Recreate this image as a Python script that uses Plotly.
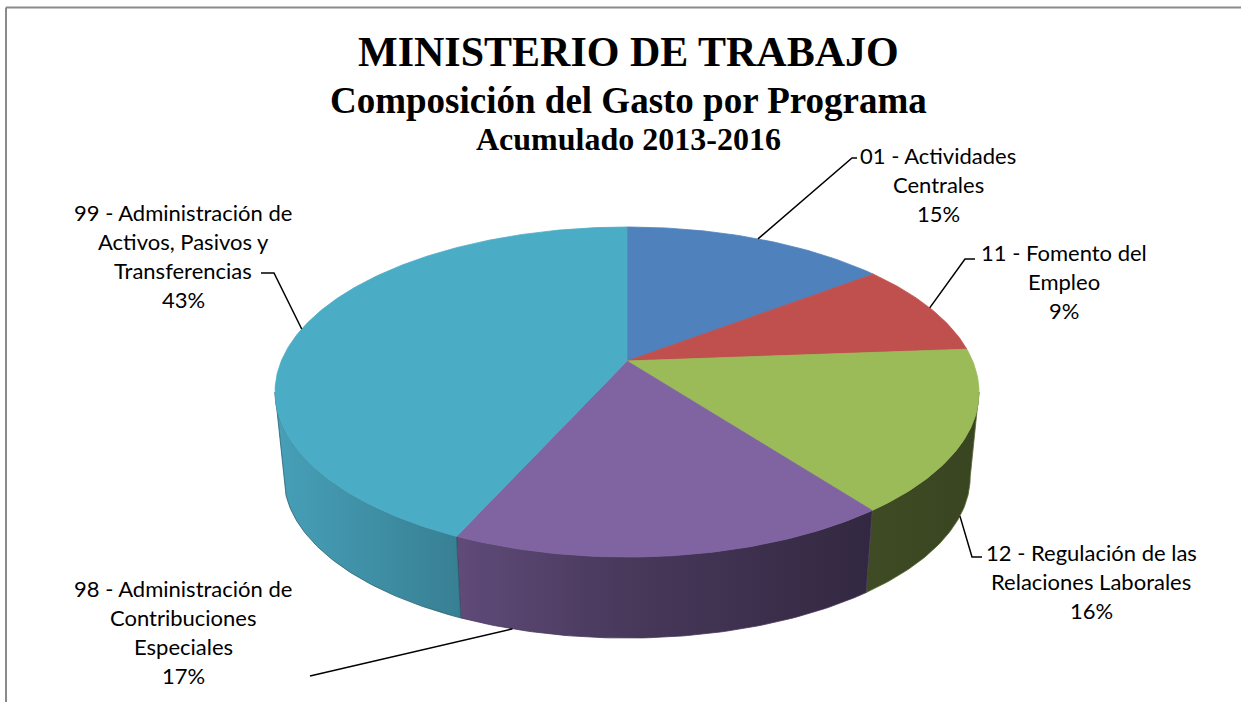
import numpy as np
import plotly.graph_objects as go

# ---------------- data ----------------
categories = [
    "01 - Actividades Centrales",
    "11 - Fomento del Empleo",
    "12 - Regulación de las Relaciones Laborales",
    "98 - Administración de Contribuciones Especiales",
    "99 - Administración de Activos, Pasivos y Transferencias",
]
label_lines = [
    ["01 - Actividades", "Centrales"],
    ["11 - Fomento del", "Empleo"],
    ["12 - Regulación de las", "Relaciones Laborales"],
    ["98 - Administración de", "Contribuciones", "Especiales"],
    ["99 - Administración de", "Activos, Pasivos y", "Transferencias"],
]
values = [14.6, 9.2, 15.9, 17.0, 43.3]
colors = ["#4F81BD", "#C0504D", "#9BBB59", "#8064A2", "#4BACC6"]
titles = ["MINISTERIO DE TRABAJO", "Composición del Gasto por Programa", "Acumulado 2013-2016"]

# ---------------- layout / geometry parameters ----------------
W, H = 1241, 702
CX, CY = 627, 361          # pie centre on screen
A, B, P = 345.7, 159.2, 0.188   # perspective ellipse parameters
DEPTH, BSCALE = 85.9, 0.975      # thickness and bottom-face shrink
SHADE_X = [275, 462, 620, 865, 980]
SHADE_F = [0.93, 0.74, 0.57, 0.40, 0.37]

label_cfg = [
    dict(cx=938, y0=155, frac=0.5, face="top", path=[(852, 158), (857, 158)]),
    dict(cx=1064, y0=252, frac=0.5, face="top", path=[(965, 259), (975, 259)]),
    dict(cx=1091, y0=552, frac=0.5, face="bottom", path=[(972, 557), (982, 557)]),
    dict(cx=183, y0=588, frac=0.87, face="bottom", path=[(310, 676)]),
    dict(cx=183, y0=212, frac=0.5, face="top", path=[(274, 273), (261, 273)]),
]
LINE_GAP = 29
LABEL_FONT = dict(family="Lato, Carlito, Calibri, sans-serif", size=22, color="black")


def top_pt(theta_deg):
    th = np.radians(theta_deg)
    u, v = np.sin(th), np.cos(th)
    d = 1 + P * v
    return CX + A * u / d, CY - B * v / d


def bot_pt(theta_deg):
    xt, yt = top_pt(theta_deg)
    return CX + BSCALE * (xt - CX), CY + DEPTH + BSCALE * (yt - CY)


def shade(hexcol, f):
    h = hexcol.lstrip("#")
    r, g, b = (int(h[i:i + 2], 16) for i in (0, 2, 4))
    return "rgb(%d,%d,%d)" % (round(r * f), round(g * f), round(b * f))


total = sum(values)
cum = np.concatenate([[0], np.cumsum(values)]) / total * 360.0
theta_r = np.degrees(np.arccos(-P))
theta_l = 360 - theta_r

fig = go.Figure()

# ---- side walls ----
for i, col in enumerate(colors):
    t0, t1 = max(cum[i], theta_r), min(cum[i + 1], theta_l)
    if t1 <= t0:
        continue
    ts = np.linspace(t0, t1, 80)
    xt, yt = top_pt(ts)
    xb, yb = bot_pt(ts[::-1])
    xs = np.concatenate([xt, xb, xt[:1]])
    ys = np.concatenate([yt, yb, yt[:1]])
    x0, x1 = SHADE_X[0], SHADE_X[-1]
    cs = [[(sx - x0) / (x1 - x0), shade(col, sf)] for sx, sf in zip(SHADE_X, SHADE_F)]
    fig.add_trace(go.Scatter(
        x=xs, y=ys, mode="lines", fill="toself",
        line=dict(width=0.8, color=shade(col, 0.55)),
        fillgradient=dict(type="horizontal", colorscale=cs, start=x0, stop=x1),
        hoverinfo="skip", showlegend=False))

# ---- top faces ----
for i, col in enumerate(colors):
    n = max(int((cum[i + 1] - cum[i]) * 1.5), 8)
    ts = np.linspace(cum[i], cum[i + 1], n)
    xt, yt = top_pt(ts)
    xs = np.concatenate([[CX], xt, [CX]])
    ys = np.concatenate([[CY], yt, [CY]])
    fig.add_trace(go.Scatter(
        x=xs, y=ys, mode="lines", fill="toself", fillcolor=col,
        line=dict(width=0.8, color=col), name=categories[i],
        hoverinfo="name", showlegend=False))

# ---- labels and leader lines ----
annotations = []
for i, cfg in enumerate(label_cfg):
    ta = cum[i] + cfg["frac"] * (cum[i + 1] - cum[i])
    ax, ay = top_pt(ta) if cfg["face"] == "top" else bot_pt(ta)
    px = [ax] + [p[0] for p in cfg["path"]]
    py = [ay] + [p[1] for p in cfg["path"]]
    fig.add_trace(go.Scatter(x=px, y=py, mode="lines",
                             line=dict(color="black", width=1.5),
                             hoverinfo="skip", showlegend=False))
    pct = "%d%%" % round(values[i] / total * 100)
    for k, txt in enumerate(label_lines[i] + [pct]):
        annotations.append(dict(x=cfg["cx"], y=cfg["y0"] + k * LINE_GAP, text=txt,
                                showarrow=False, xanchor="center", yanchor="middle",
                                font=LABEL_FONT))

title_sizes = [42, 37, 32]
title_y = [52, 100, 139]
for t, s, y in zip(titles, title_sizes, title_y):
    annotations.append(dict(x=628, y=y, text="<b>%s</b>" % t, showarrow=False,
                            xanchor="center", yanchor="middle",
                            font=dict(family="Liberation Serif, Times New Roman, serif",
                                      size=s, color="black")))

shapes = [
    dict(type="line", x0=6, y0=7.5, x1=6, y1=H, line=dict(color="#8a8a8a", width=2)),
    dict(type="line", x0=6, y0=7.5, x1=W, y1=7.5, line=dict(color="#8a8a8a", width=2)),
]

fig.update_layout(
    width=W, height=H,
    margin=dict(l=0, r=0, t=0, b=0),
    paper_bgcolor="white", plot_bgcolor="white",
    xaxis=dict(range=[0, W], visible=False, fixedrange=True),
    yaxis=dict(range=[H, 0], visible=False, fixedrange=True),
    annotations=annotations, shapes=shapes, showlegend=False,
)

fig.write_html("out.html",
               config={"displayModeBar": False},
               post_script="document.body.style.margin='0px';"
                           "document.body.style.overflow='hidden';")
